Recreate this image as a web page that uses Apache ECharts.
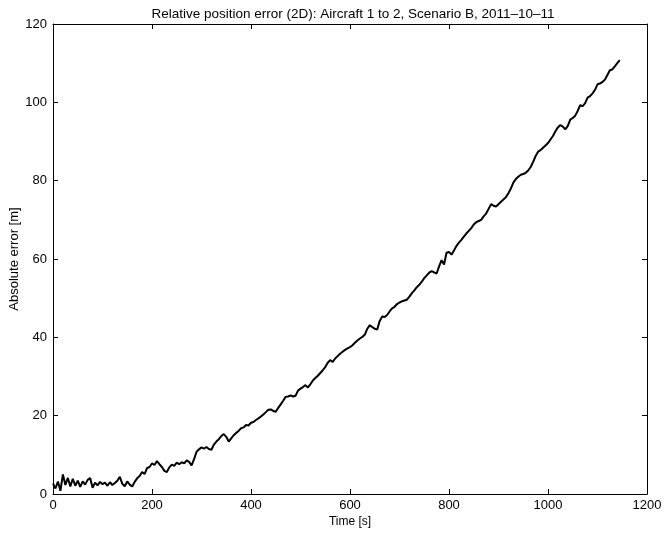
<!DOCTYPE html>
<html>
<head>
<meta charset="utf-8">
<script src="https://cdn.jsdelivr.net/npm/echarts@6/dist/echarts.min.js"></script>
<style>
html,body{margin:0;padding:0;background:#fff;}
#chart{width:665px;height:535px;}
</style>
</head>
<body>
<div id="chart"></div>
<script>
const titleText = "Relative position error (2D): Aircraft 1 to 2, Scenario B, 2011\u201310\u201311";
const xName = "Time [s]";
const yName = "Absolute error [m]";
const xTicks = [0, 200, 400, 600, 800, 1000, 1200];
const yTicks = [0, 20, 40, 60, 80, 100, 120];
const sampleStep = 5; // seconds between samples
// absolute error [m], one value every 5 s, starting at t = 0
const errors = [
  2.7, 1.4, 3.2, 0.8, 5.0, 2.3, 4.1, 1.9, 3.9, 2.1,
  3.4, 1.8, 3.2, 2.4, 3.6, 4.1, 1.6, 2.9, 2.2, 3.1,
  2.5, 2.9, 2.1, 3.0, 2.3, 2.8, 3.4, 4.4, 2.6, 2.0,
  3.2, 2.4, 1.9, 3.1, 4.0, 4.6, 5.6, 5.1, 6.6, 6.9,
  7.8, 7.4, 8.4, 7.6, 6.9, 5.9, 5.6, 6.8, 7.5, 7.2,
  8.0, 7.6, 8.1, 7.8, 8.6, 8.2, 7.3, 8.9, 10.8, 11.4,
  11.9, 11.6, 12.0, 11.5, 11.3, 12.6, 13.4, 14.0, 14.8, 15.3,
  14.6, 13.4, 14.2, 15.0, 15.6, 16.1, 16.8, 17.0, 17.6, 17.5,
  18.2, 18.4, 18.9, 19.3, 19.8, 20.3, 20.9, 21.5, 21.6, 21.2,
  21.0, 22.0, 22.9, 23.8, 24.8, 24.9, 25.2, 24.9, 25.1, 26.4,
  26.9, 27.3, 27.8, 27.2, 28.0, 29.0, 29.6, 30.2, 30.9, 31.6,
  32.4, 33.5, 34.2, 33.7, 34.6, 35.2, 35.8, 36.3, 36.8, 37.2,
  37.5, 38.0, 38.6, 39.2, 39.7, 40.1, 40.7, 42.2, 43.1, 42.6,
  42.2, 42.0, 44.2, 45.3, 45.2, 45.7, 46.6, 47.4, 47.8, 48.5,
  48.9, 49.2, 49.4, 49.6, 50.4, 51.3, 52.0, 52.8, 53.4, 54.2,
  55.1, 55.8, 56.5, 56.9, 56.6, 56.3, 58.1, 59.7, 58.6, 61.6,
  61.8, 61.1, 62.2, 63.3, 64.2, 64.9, 65.7, 66.5, 67.2, 67.9,
  68.8, 69.4, 69.7, 70.0, 70.9, 71.6, 72.8, 74.0, 73.6, 73.4,
  74.0, 74.6, 75.2, 75.8, 76.8, 78.0, 79.5, 80.4, 81.0, 81.5,
  81.7, 82.0, 82.6, 83.5, 84.8, 86.3, 87.4, 87.8, 88.4, 89.0,
  89.6, 90.5, 91.4, 92.6, 93.6, 94.2, 93.8, 93.1, 94.0, 95.6,
  96.0, 96.6, 97.8, 99.3, 99.0, 99.8, 101.2, 101.6, 102.3, 103.2,
  104.6, 104.8, 105.2, 105.8, 107.0, 108.2, 108.4, 109.2, 110.0, 110.8
];
const times = errors.map((_, i) => i * sampleStep);
const seriesData = times.map((t, i) => [t, errors[i]]);

const FONT = "Liberation Sans, Arial, Helvetica, sans-serif";
const chart = echarts.init(document.getElementById('chart'), null, {renderer: 'canvas'});
const axisLine = {show: true, onZero: false, lineStyle: {color: '#000', width: 1}};
const ticksIn = {show: true, inside: true, length: 5, lineStyle: {color: '#000', width: 1}};
const plain = v => String(v);
chart.setOption({
  backgroundColor: '#fff',
  animation: false,
  title: {
    text: titleText, left: 348, top: 2, textAlign: 'center',
    textStyle: {fontFamily: FONT, fontSize: 13.5, fontWeight: 'normal', color: '#000'}
  },
  grid: {left: 53, right: 18, top: 24, bottom: 41, containLabel: false, outerBoundsMode: 'none'},
  xAxis: [{
    type: 'value', min: xTicks[0], max: xTicks[xTicks.length - 1], interval: 200,
    position: 'bottom',
    name: xName, nameLocation: 'middle', nameGap: 22, nameMoveOverlap: false,
    nameTextStyle: {fontFamily: FONT, fontSize: 12, color: '#000'},
    axisLine, axisTick: ticksIn, splitLine: {show: false},
    axisLabel: {fontFamily: FONT, fontSize: 13, color: '#000', margin: 5, formatter: plain}
  }, {
    type: 'value', min: xTicks[0], max: xTicks[xTicks.length - 1], interval: 200,
    position: 'top', axisLine, axisTick: ticksIn, axisLabel: {show: false}, splitLine: {show: false}
  }],
  yAxis: [{
    type: 'value', min: yTicks[0], max: yTicks[yTicks.length - 1], interval: 20,
    position: 'left',
    name: yName, nameLocation: 'middle', nameGap: 32, nameMoveOverlap: false,
    nameTextStyle: {fontFamily: FONT, fontSize: 13, color: '#000'},
    axisLine, axisTick: ticksIn, splitLine: {show: false},
    axisLabel: {fontFamily: FONT, fontSize: 13, color: '#000', margin: 6, formatter: plain}
  }, {
    type: 'value', min: yTicks[0], max: yTicks[yTicks.length - 1], interval: 20,
    position: 'right', axisLine, axisTick: ticksIn, axisLabel: {show: false}, splitLine: {show: false}
  }],
  series: [{
    type: 'line', xAxisIndex: 0, yAxisIndex: 0,
    data: seriesData, showSymbol: false, symbol: 'none',
    lineStyle: {color: '#000', width: 2}, smooth: false
  }]
});
</script>
</body>
</html>
